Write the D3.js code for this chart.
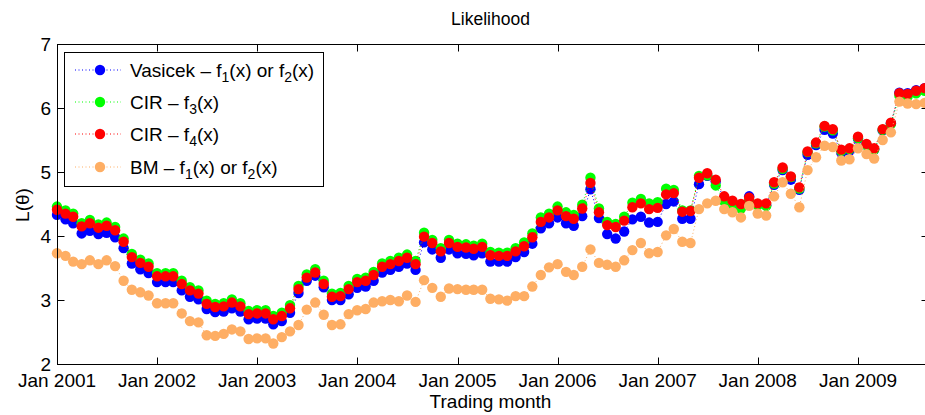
<!DOCTYPE html>
<html><head><meta charset="utf-8">
<script src="https://cdn.jsdelivr.net/npm/d3@7"></script>
<style>body{margin:0;background:#fff}svg{display:block}text{font-family:"Liberation Sans",Arial,Helvetica,sans-serif;fill:#000}</style>
</head><body><svg id="c" width="925" height="415"></svg>
<script>
// ---- data ----
const startMonth = new Date(2001, 0, 1);
const endMonth = new Date(2009, 9, 1); // exclusive
const months = d3.timeMonth.range(startMonth, endMonth); // Jan 2001 .. Sep 2009

const seriesNames = ["Vasicek – f1(x) or f2(x)", "CIR – f3(x)", "CIR – f4(x)", "BM – f1(x) or f2(x)"];
const seriesColors = ["#0000ff", "#00ff00", "#ff0000", "#feae64"];

const vasicek = [4.33,4.26,4.20,4.04,4.08,4.03,4.05,3.98,3.81,3.57,
3.48,3.42,3.28,3.28,3.28,3.15,3.05,3.01,2.86,2.81,
2.82,2.87,2.82,2.70,2.71,2.71,2.62,2.67,2.80,3.11,
3.30,3.38,3.20,3.00,3.00,3.09,3.19,3.21,3.30,3.43,
3.47,3.52,3.57,3.47,3.90,3.79,3.66,3.79,3.73,3.72,
3.70,3.73,3.60,3.60,3.60,3.67,3.75,3.88,4.12,4.20,
4.29,4.20,4.16,4.31,4.73,4.28,4.03,3.96,4.07,4.26,
4.30,4.21,4.22,4.50,4.54,4.27,4.27,4.81,4.94,4.85,
4.59,4.52,4.47,4.62,4.49,4.48,4.80,5.03,4.88,4.72,
5.27,5.42,5.66,5.60,5.30,5.33,5.52,5.42,5.35,5.65,
5.76,6.24,6.23,6.28,6.31];

const cirF3 = [4.46,4.40,4.35,4.20,4.25,4.18,4.21,4.14,3.96,3.72,
3.63,3.57,3.42,3.42,3.42,3.30,3.20,3.15,2.99,2.94,
2.95,3.01,2.95,2.83,2.84,2.84,2.75,2.80,2.92,3.22,
3.40,3.48,3.30,3.10,3.11,3.22,3.33,3.35,3.44,3.57,
3.61,3.66,3.71,3.61,4.05,3.94,3.81,3.94,3.88,3.87,
3.85,3.88,3.75,3.74,3.74,3.81,3.90,4.04,4.29,4.35,
4.46,4.37,4.33,4.49,4.91,4.43,4.22,4.19,4.30,4.52,
4.58,4.51,4.53,4.74,4.72,4.40,4.40,4.94,4.95,4.79,
4.54,4.49,4.43,4.56,4.48,4.47,4.82,5.05,4.92,4.74,
5.31,5.45,5.71,5.65,5.33,5.36,5.53,5.42,5.35,5.66,
5.75,6.19,6.18,6.23,6.27];

const cirF4 = [4.41,4.35,4.30,4.15,4.20,4.13,4.16,4.09,3.91,3.67,
3.58,3.52,3.37,3.37,3.37,3.25,3.15,3.10,2.94,2.89,
2.90,2.96,2.90,2.78,2.79,2.79,2.70,2.75,2.87,3.17,
3.35,3.43,3.25,3.05,3.06,3.17,3.28,3.30,3.39,3.52,
3.56,3.61,3.66,3.56,3.99,3.89,3.76,3.89,3.83,3.82,
3.80,3.83,3.70,3.69,3.69,3.76,3.84,3.98,4.22,4.29,
4.40,4.31,4.27,4.43,4.83,4.37,4.17,4.14,4.24,4.45,
4.51,4.42,4.44,4.65,4.67,4.38,4.39,4.91,4.98,4.88,
4.62,4.55,4.50,4.60,4.51,4.51,4.84,5.07,4.93,4.76,
5.32,5.46,5.72,5.67,5.35,5.37,5.55,5.44,5.37,5.67,
5.77,6.23,6.22,6.27,6.31];

const bm = [3.73,3.69,3.60,3.56,3.62,3.56,3.62,3.53,3.30,3.16,
3.12,3.07,2.95,2.95,2.95,2.79,2.67,2.65,2.45,2.44,
2.47,2.54,2.51,2.39,2.40,2.40,2.32,2.42,2.51,2.61,
2.85,2.96,2.77,2.61,2.62,2.78,2.84,2.86,2.96,2.98,
3.00,2.98,3.07,2.97,3.31,3.19,3.05,3.18,3.17,3.16,
3.16,3.16,3.02,3.01,2.99,3.06,3.06,3.21,3.39,3.51,
3.56,3.44,3.39,3.52,3.79,3.58,3.55,3.52,3.62,3.78,
3.89,3.73,3.75,4.01,4.11,3.91,3.89,4.42,4.51,4.55,
4.42,4.37,4.29,4.47,4.35,4.32,4.62,4.84,4.66,4.45,
5.03,5.23,5.41,5.39,5.18,5.20,5.37,5.28,5.21,5.50,
5.62,6.10,6.07,6.06,6.08];

const yTicks = [2, 3, 4, 5, 6, 7];
const xTickYears = [2001, 2002, 2003, 2004, 2005, 2006, 2007, 2008, 2009];
const titleText = "Likelihood";
const xLabelText = "Trading month";

// ---- layout ----
const svg = d3.select("#c");
const L = 57, T = 44, B = 364;
const x = d3.scaleTime().domain([new Date(2001,0,1), new Date(2009,0,1)]).range([L, 858]);
const R = 928;
const y = d3.scaleLinear().domain([2, 7]).range([B, T]);
const font = 19;
const tickLen = 7;
const rMark = 5.2;
const allSeries = [vasicek, cirF3, cirF4, bm];

// plot background
svg.append("rect").attr("x", L).attr("y", T).attr("width", R - L).attr("height", B - T).attr("fill", "#fff");

// series
const line = d3.line().x((d, i) => x(months[i])).y(d => y(d));
allSeries.forEach((s, k) => {
  const g = svg.append("g");
  g.append("path").attr("d", line(s)).attr("fill", "none").attr("stroke", seriesColors[k])
    .attr("stroke-width", 1).attr("stroke-dasharray", "1,2.5");
  g.selectAll("circle").data(s).join("circle")
    .attr("cx", (d, i) => x(months[i])).attr("cy", d => y(d)).attr("r", rMark)
    .attr("fill", seriesColors[k]);
});

// axes box
const ax = svg.append("g").attr("stroke", "#000").attr("stroke-width", 1).attr("fill", "none");
ax.append("rect").attr("x", L + 0.5).attr("y", T + 0.5).attr("width", R - L).attr("height", B - T);

// x ticks (bottom and top, inward)
const xt = xTickYears.map(yr => new Date(yr, 0, 1));
xt.forEach(d => {
  const px = Math.round(x(d)) + 0.5;
  ax.append("line").attr("x1", px).attr("x2", px).attr("y1", B + 0.5).attr("y2", B + 0.5 - tickLen);
  ax.append("line").attr("x1", px).attr("x2", px).attr("y1", T + 0.5).attr("y2", T + 0.5 + tickLen);
});
const fmt = d3.timeFormat("%b %Y");
svg.append("g").selectAll("text").data(xt).join("text")
  .attr("x", d => x(d)).attr("y", B + 23).attr("text-anchor", "middle")
  .attr("font-size", font).text(d => fmt(d));

// y ticks
yTicks.forEach(v => {
  const py = Math.round(y(v)) + 0.5;
  ax.append("line").attr("x1", L + 0.5).attr("x2", L + 0.5 + tickLen).attr("y1", py).attr("y2", py);
  ax.append("line").attr("x1", R + 0.5).attr("x2", R + 0.5 - tickLen).attr("y1", py).attr("y2", py);
});
svg.append("g").selectAll("text").data(yTicks).join("text")
  .attr("x", L - 6).attr("y", d => y(d) + 6.5).attr("text-anchor", "end")
  .attr("font-size", font).text(d => d);

// title and labels
svg.append("text").attr("x", (L + R) / 2 - 2).attr("y", 25).attr("text-anchor", "middle")
  .attr("font-size", 17.5).text(titleText);
svg.append("text").attr("x", (L + R) / 2 - 2).attr("y", 408).attr("text-anchor", "middle")
  .attr("font-size", font).text(xLabelText);
svg.append("text").attr("transform", "translate(29,205) rotate(-90)").attr("text-anchor", "middle")
  .attr("font-size", font).text("L(θ)");

// legend
const lg = svg.append("g");
lg.append("rect").attr("x", 64.5).attr("y", 52.5).attr("width", 259).attr("height", 134)
  .attr("fill", "#fff").attr("stroke", "#000").attr("stroke-width", 1);
const legendRows = [
  [["Vasicek – f", 0], ["1", 1], ["(x) or f", 0], ["2", 1], ["(x)", 0]],
  [["CIR – f", 0], ["3", 1], ["(x)", 0]],
  [["CIR – f", 0], ["4", 1], ["(x)", 0]],
  [["BM – f", 0], ["1", 1], ["(x) or f", 0], ["2", 1], ["(x)", 0]]
];
const rowY = [70, 102, 134, 167];
seriesNames.forEach((nm, k) => {
  const ry = rowY[k];
  lg.append("line").attr("x1", 75).attr("x2", 121).attr("y1", ry).attr("y2", ry)
    .attr("stroke", seriesColors[k]).attr("stroke-width", 1).attr("stroke-dasharray", "1,2.5");
  lg.append("circle").attr("cx", 100).attr("cy", ry).attr("r", rMark).attr("fill", seriesColors[k]);
  const t = lg.append("text").attr("x", 130).attr("y", ry + 6.5).attr("font-size", font);
  let sub = false;
  legendRows[k].forEach(([s, isSub]) => {
    const ts = t.append("tspan").text(s);
    if (isSub && !sub) { ts.attr("dy", 5).attr("font-size", 14); sub = true; }
    else if (!isSub && sub) { ts.attr("dy", -5); sub = false; }
  });
});
</script></body></html>
